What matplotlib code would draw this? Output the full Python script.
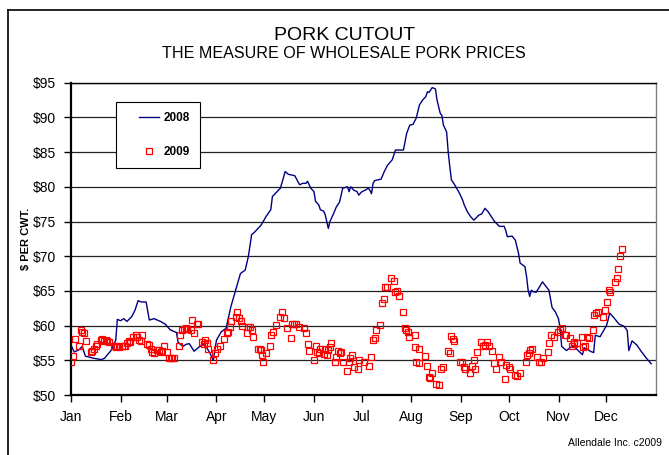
import matplotlib
matplotlib.use('Agg')
import matplotlib.pyplot as plt
from matplotlib.lines import Line2D
from matplotlib.legend_handler import HandlerLine2D

plt.rcParams['font.family'] = ['Liberation Sans', 'DejaVu Sans']

# Month tick positions (day of year) and labels
month_days = [0, 31, 60, 91, 121, 152, 182, 213, 244, 274, 305, 335]
month_names = ['Jan', 'Feb', 'Mar', 'Apr', 'May', 'Jun',
               'Jul', 'Aug', 'Sep', 'Oct', 'Nov', 'Dec']

# 2008 cutout (line) - day of year, $/cwt
days_2008 = [0, 2, 5, 7, 9, 14, 19, 21, 25, 28, 29, 31, 33, 35, 38, 40, 42, 44, 47, 49,
             52, 56, 59, 62, 64, 66, 67, 70, 72, 74, 77, 80, 83, 85, 87, 89, 91, 94, 97, 100,
             103, 106, 109, 111, 113, 115, 119, 122, 125, 126, 131, 134, 136, 140, 143, 145,
             147, 148, 150, 152, 153, 155, 156, 158, 159, 160, 161, 162, 164, 166, 168, 170,
             173, 174, 175, 177, 179, 180, 182, 184, 186, 187, 188, 189, 190, 194, 196, 198,
             201, 203, 208, 210, 212, 214, 216, 218, 220, 222, 223, 224, 226, 228, 229, 231,
             232, 233, 235, 236, 237, 238, 240, 243, 245, 246, 248, 250, 252, 253, 255, 257,
             259, 261, 263, 265, 268, 271, 272, 273, 276, 278, 280, 281, 284, 285, 286, 287,
             288, 289, 291, 295, 297, 299, 301, 303, 305, 306, 307, 310, 311, 314, 316, 320,
             321, 323, 325, 327, 328, 331, 334, 335, 336, 337, 339, 343, 346, 348, 349, 351,
             354, 357, 360, 363]
price_2008 = [57.2, 56.2, 56.5, 57.0, 55.6, 55.3, 55.1, 55.3, 56.4, 57.9, 60.9, 60.7, 61.0,
              60.6, 61.3, 62.2, 63.6, 63.4, 63.4, 60.8, 61.0, 60.6, 60.2, 59.4, 59.2, 59.0,
              57.6, 57.0, 57.3, 57.4, 56.3, 56.9, 57.3, 56.8, 56.0, 55.0, 57.9, 59.1, 59.6,
              62.7, 65.1, 67.5, 68.0, 70.0, 73.1, 73.5, 74.5, 75.7, 76.7, 78.6, 79.8, 82.2,
              81.8, 81.6, 80.3, 80.5, 80.5, 80.8, 79.8, 79.3, 77.9, 77.4, 76.7, 76.5, 76.0,
              75.0, 74.0, 75.0, 76.0, 77.1, 77.8, 79.8, 80.0, 79.3, 80.0, 79.5, 79.3, 78.8,
              79.3, 79.5, 79.8, 79.5, 79.0, 80.5, 80.9, 81.1, 82.2, 83.1, 83.9, 85.3, 85.3,
              87.7, 88.9, 89.0, 89.9, 91.8, 92.5, 93.0, 93.7, 93.6, 94.3, 94.1, 92.5, 90.6,
              90.3, 88.9, 87.9, 85.0, 82.9, 81.0, 80.3, 79.1, 78.1, 77.4, 76.4, 75.7, 75.2,
              75.4, 75.9, 76.1, 76.9, 76.4, 75.7, 75.0, 74.3, 74.3, 73.7, 72.8, 72.9, 72.3,
              70.4, 69.0, 68.5, 67.1, 65.1, 64.2, 65.1, 64.9, 64.8, 66.3, 65.7, 65.1, 62.6,
              62.0, 61.0, 59.6, 57.0, 56.4, 56.6, 57.1, 56.7, 55.8, 56.8, 56.6, 56.3, 56.1,
              58.6, 58.4, 59.6, 60.0, 60.8, 61.8, 61.3, 60.2, 59.9, 59.3, 56.4, 57.8, 57.2,
              56.2, 55.3, 54.5]

# 2009 cutout (markers)
days_2009 = [0.2, 1.4, 2.3, 5, 6, 7, 8, 9.2, 12.3, 13.3, 14.4, 15.4, 16.4, 18.5, 19.6, 20.6,
             21.7, 22.7, 23.8, 26.9, 27.9, 29, 30, 32, 33, 34, 35, 36, 37, 39, 40.4, 41.5,
             42.5, 43.5, 44.6, 47.7, 48.8, 49.8, 50.8, 51.9, 53.9, 55, 56, 57, 58, 60, 61,
             62.3, 63.3, 64.4, 67.5, 68.5, 69.6, 70.6, 71.7, 72.7, 74.8, 75.8, 76.9, 78.6,
             79.4, 82, 83, 84, 85, 86, 89, 90, 91.4, 93, 96, 97.3, 98.3, 99.4, 100.4, 103,
             104, 105, 106.5, 107, 110, 111, 112, 113, 114, 117, 118, 119, 119.6, 120.2,
             121.7, 124.4, 125.2, 126.4, 128, 131, 132, 133, 135, 137.7, 138.3, 139.4, 141,
             142.5, 145.6, 147.3, 148, 148.7, 151.9, 153, 154, 155, 156, 158, 159, 160, 161,
             162, 162.9, 165, 165.8, 167, 168, 169, 170, 172.7, 173.8, 174.8, 175.8, 176.9,
             179.6, 180.4, 183, 186.7, 188, 189, 190, 191, 193.5, 194.6, 195.6, 196.7, 197.7,
             200.4, 201.9, 202.5, 204, 205, 207.5, 208.8, 209.6, 210.8, 211.7, 215, 215.4,
             215.8, 217.5, 218, 221.7, 222.7, 223.8, 224.8, 225.8, 228.5, 230, 231.5, 232.7,
             235.6, 236.9, 237.9, 239, 239.8, 243.5, 244.6, 245.6, 246.7, 249.8, 250.8,
             251.9, 253, 254, 256.5, 257.7, 258.8, 260.2, 261.3, 263.3, 264.4, 266, 267.5,
             269, 271.7, 272.3, 273.8, 274.8, 277.9, 279, 281, 284.6, 285.2, 286.3, 287.3,
             288.3, 291.4, 293, 294, 295.6, 298.3, 299.2, 300.4, 301.9, 304.6, 306, 307.5,
             308.8, 310, 312.3, 313.3, 314.4, 315, 316.5, 319.6, 320.6, 321.7, 322.7, 323.8,
             326.3, 327.5, 328.3, 330, 333, 334.2, 335.2, 336.3, 337.3, 340.4, 341.4, 342.5,
             343.6, 344.6]
price_2009 = [54.8, 55.6, 58.1, 57.1, 59.3, 59.1, 59.0, 57.8, 56.2, 56.4, 56.7, 57.1, 57.4,
              57.9, 58.0, 57.8, 57.9, 57.8, 57.7, 57.0, 56.9, 57.1, 56.9, 57.0, 57.0, 57.1,
              57.5, 57.8, 57.7, 58.4, 58.6, 58.4, 57.9, 57.8, 58.6, 57.3, 57.2, 56.7, 56.2,
              56.1, 56.5, 56.5, 56.2, 56.4, 57.0, 56.2, 55.4, 55.3, 55.3, 55.3, 57.1, 58.6,
              59.4, 59.5, 59.6, 59.5, 59.4, 60.8, 58.9, 60.3, 60.3, 57.7, 57.4, 57.9, 57.5,
              56.7, 55.0, 56.0, 56.7, 57.1, 58.0, 58.9, 59.1, 59.8, 60.7, 61.3, 61.9, 61.1,
              60.7, 59.9, 58.9, 59.8, 59.8, 59.4, 58.3, 56.7, 56.7, 56.5, 55.7, 54.7, 56.0,
              57.0, 58.6, 59.1, 60.1, 61.3, 61.9, 61.1, 59.6, 58.2, 60.2, 60.3, 60.3, 59.8,
              59.6, 58.9, 57.4, 56.4, 55.1, 57.1, 56.2, 56.1, 56.6, 55.9, 56.6, 55.8, 56.5,
              56.9, 57.5, 54.8, 55.5, 56.4, 56.0, 56.2, 54.7, 53.4, 54.8, 55.3, 55.8, 54.1,
              53.7, 55.0, 54.8, 54.2, 55.5, 57.9, 58.2, 59.3, 60.1, 63.3, 63.9, 65.6, 65.6,
              66.8, 66.4, 64.9, 65.0, 64.2, 62.0, 59.6, 59.4, 59.1, 58.4, 58.6, 56.9, 54.7,
              54.6, 56.7, 55.6, 54.2, 52.6, 52.4, 53.2, 51.6, 51.4, 53.8, 54.0, 56.4, 56.0,
              58.5, 58.0, 57.8, 54.7, 54.7, 54.0, 53.7, 53.2, 54.2, 55.0, 53.7, 56.2, 57.7,
              57.0, 57.2, 57.7, 57.0, 56.4, 54.6, 53.7, 55.5, 54.7, 52.3, 54.3, 54.0, 53.8,
              52.9, 52.7, 53.1, 54.8, 55.8, 56.0, 56.5, 56.7, 55.5, 54.8, 54.7, 55.3, 56.2,
              57.5, 58.6, 58.4, 59.1, 59.4, 59.6, 58.6, 58.6, 58.2, 57.1, 57.3, 57.7, 57.5,
              58.4, 56.9, 57.0, 58.3, 58.2, 59.4, 61.5, 61.8, 61.9, 61.2, 62.3, 63.4, 65.1,
              64.9, 66.3, 66.8, 68.1, 70.0, 71.1]

y_ticks = list(range(50, 100, 5))
y_labels = ['${}'.format(v) for v in y_ticks]

W, H = 669, 455
fig = plt.figure(figsize=(W / 100, H / 100), dpi=100)
fig.patch.set_facecolor('white')

# Outer chart frame (left and top edges visible)
fig.add_artist(Line2D([8 / W, 8 / W], [0, 1 - 10 / H], transform=fig.transFigure,
                      color='k', lw=1.2))
fig.add_artist(Line2D([8 / W, 1], [1 - 10 / H, 1 - 10 / H], transform=fig.transFigure,
                      color='k', lw=1.2))

ax = fig.add_axes([71 / W, 1 - 395 / H, (656 - 71) / W, (395 - 82.7) / H])

# Gridlines
for v in y_ticks[1:]:
    ax.axhline(v, color='#222222', lw=0.9, zorder=1)

l1, = ax.plot(days_2008, price_2008, color='#000080', lw=1.0, zorder=3, label='2008')
l2, = ax.plot(days_2009, price_2009, ls='none', marker='s', ms=4.6, mfc='none', mec='red',
              mew=0.9, zorder=4, label='2009')

ax.set_xlim(0, 366)
ax.set_ylim(50, 95)
ax.set_xticks(month_days)
ax.set_xticklabels(month_names, fontsize=10)
ax.set_yticks(y_ticks)
ax.set_yticklabels(y_labels, fontsize=10)
ax.tick_params(direction='out', length=5, width=1, pad=6)

for side in ['left', 'bottom', 'top']:
    ax.spines[side].set_color('k')
ax.spines['left'].set_linewidth(1.6)
ax.spines['bottom'].set_linewidth(1.6)
ax.spines['top'].set_linewidth(1.0)
ax.spines['right'].set_color('#808080')
ax.spines['right'].set_linewidth(1.0)

# legend: handle pushed in from the left edge like the original box
hmap = {l1: HandlerLine2D(xpad=1.1), l2: HandlerLine2D(xpad=1.1)}
leg = ax.legend(handles=[l1, l2], handler_map=hmap, loc='upper left',
                bbox_to_anchor=(0.077, 0.937), borderaxespad=0, fancybox=False,
                edgecolor='k', framealpha=1, labelspacing=1.8, handlelength=2.8,
                handletextpad=0.4, borderpad=0.85,
                prop={'weight': 'bold', 'size': 8.5})
leg.get_frame().set_linewidth(0.8)

fig.text(345 / W, 1 - 35.5 / H, 'PORK CUTOUT', ha='center', va='center', fontsize=14)
fig.text(344 / W, 1 - 53.5 / H, 'THE MEASURE OF WHOLESALE PORK PRICES', ha='center',
         va='center', fontsize=11.6)
fig.text(26 / W, 1 - 239 / H, '$ PER CWT.', rotation=90, ha='center', va='center',
         fontsize=8, fontweight='bold')
fig.text(662 / W, 1 - 443 / H, 'Allendale Inc. c2009', ha='right', va='center',
         fontsize=7.5)

fig.savefig('out.png', dpi=100)
